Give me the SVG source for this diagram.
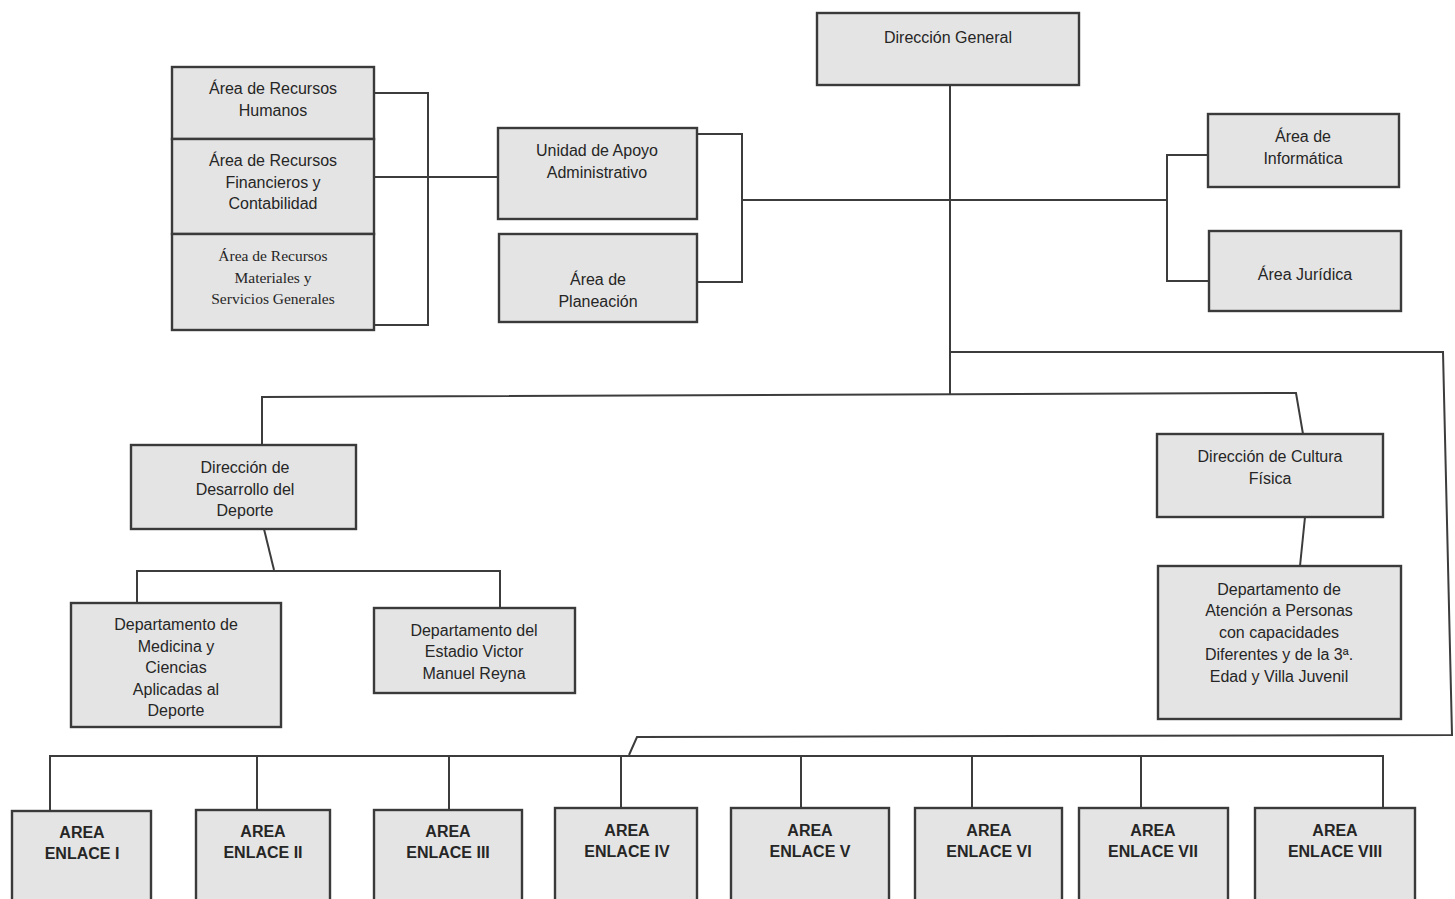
<svg xmlns="http://www.w3.org/2000/svg" width="1455" height="899" viewBox="0 0 1455 899">
<style>
.box{fill:#e4e4e4;stroke:#3a3a3a;stroke-width:2.4}
.ln{fill:none;stroke:#3c3c3c;stroke-width:2}
text{font-family:"Liberation Sans",Arial,sans-serif;font-size:16px;fill:#262626;text-anchor:middle}
.sf{font-family:"Liberation Serif","Times New Roman",serif;font-size:15.5px}
.b{font-weight:bold}
</style>
<rect width="1455" height="899" fill="#ffffff"/>
<g id="connectors">
<line class="ln" x1="950" y1="85" x2="950" y2="395"/>
<path class="ln" d="M374 93 H428 V325 H374"/>
<line class="ln" x1="374" y1="177" x2="498" y2="177"/>
<path class="ln" d="M697 134 H742 V282 H697"/>
<line class="ln" x1="742" y1="200" x2="1167" y2="200"/>
<path class="ln" d="M1208 155 H1167 V281 H1209"/>
<path class="ln" d="M950 352 H1443 L1452 735 L637 737 L629 755"/>
<path class="ln" d="M262 445 V397 L1296 393 L1303 434"/>
<path class="ln" d="M264 529 L274 570"/>
<path class="ln" d="M137 603 V571 H500 V608"/>
<path class="ln" d="M1305 517 L1300 566"/>
<path class="ln" d="M50 811 V756 H1383 V808"/>
<line class="ln" x1="257" y1="756" x2="257" y2="810"/>
<line class="ln" x1="449" y1="756" x2="449" y2="810"/>
<line class="ln" x1="621" y1="756" x2="621" y2="808"/>
<line class="ln" x1="801" y1="756" x2="801" y2="808"/>
<line class="ln" x1="972" y1="756" x2="972" y2="808"/>
<line class="ln" x1="1141" y1="756" x2="1141" y2="808"/>
</g>
<g id="direccion-general"><rect class="box" x="817" y="13" width="262" height="72"/><text x="948" y="43">Dirección General</text></g>
<g id="recursos-humanos"><rect class="box" x="172" y="67" width="202" height="72"/><text x="273" y="94">Área de Recursos</text><text x="273" y="116">Humanos</text></g>
<g id="recursos-financieros"><rect class="box" x="172" y="139" width="202" height="95"/><text x="273" y="166">Área de Recursos</text><text x="273" y="188">Financieros y</text><text x="273" y="209">Contabilidad</text></g>
<g id="recursos-materiales"><rect class="box" x="172" y="234" width="202" height="96"/><text class="sf" x="273" y="261">Área de Recursos</text><text class="sf" x="273" y="283">Materiales y</text><text class="sf" x="273" y="304">Servicios Generales</text></g>
<g id="unidad-apoyo"><rect class="box" x="498" y="128" width="199" height="91"/><text x="597" y="156">Unidad de Apoyo</text><text x="597" y="178">Administrativo</text></g>
<g id="planeacion"><rect class="box" x="499" y="234" width="198" height="88"/><text x="598" y="285">Área de</text><text x="598" y="307">Planeación</text></g>
<g id="informatica"><rect class="box" x="1208" y="114" width="191" height="73"/><text x="1303" y="142">Área de</text><text x="1303" y="164">Informática</text></g>
<g id="juridica"><rect class="box" x="1209" y="231" width="192" height="80"/><text x="1305" y="280">Área Jurídica</text></g>
<g id="desarrollo-deporte"><rect class="box" x="131" y="445" width="225" height="84"/><text x="245" y="473">Dirección de</text><text x="245" y="495">Desarrollo del</text><text x="245" y="516">Deporte</text></g>
<g id="cultura-fisica"><rect class="box" x="1157" y="434" width="226" height="83"/><text x="1270" y="462">Dirección de Cultura</text><text x="1270" y="484">Física</text></g>
<g id="medicina"><rect class="box" x="71" y="603" width="210" height="124"/><text x="176" y="630">Departamento de</text><text x="176" y="652">Medicina y</text><text x="176" y="673">Ciencias</text><text x="176" y="695">Aplicadas al</text><text x="176" y="716">Deporte</text></g>
<g id="estadio"><rect class="box" x="374" y="608" width="201" height="85"/><text x="474" y="636">Departamento del</text><text x="474" y="657">Estadio Victor</text><text x="474" y="679">Manuel Reyna</text></g>
<g id="atencion"><rect class="box" x="1158" y="566" width="243" height="153"/><text x="1279" y="595">Departamento de</text><text x="1279" y="616">Atención a Personas</text><text x="1279" y="638">con capacidades</text><text x="1279" y="660">Diferentes y de la 3ª.</text><text x="1279" y="682">Edad y Villa Juvenil</text></g>
<g id="enlace-1"><rect class="box" x="12" y="811" width="139" height="100"/><text class="b" x="82" y="838">AREA</text><text class="b" x="82" y="859">ENLACE I</text></g>
<g id="enlace-2"><rect class="box" x="196" y="810" width="134" height="100"/><text class="b" x="263" y="837">AREA</text><text class="b" x="263" y="858">ENLACE II</text></g>
<g id="enlace-3"><rect class="box" x="374" y="810" width="148" height="100"/><text class="b" x="448" y="837">AREA</text><text class="b" x="448" y="858">ENLACE III</text></g>
<g id="enlace-4"><rect class="box" x="555" y="808" width="142" height="100"/><text class="b" x="627" y="836">AREA</text><text class="b" x="627" y="857">ENLACE IV</text></g>
<g id="enlace-5"><rect class="box" x="731" y="808" width="158" height="100"/><text class="b" x="810" y="836">AREA</text><text class="b" x="810" y="857">ENLACE V</text></g>
<g id="enlace-6"><rect class="box" x="915" y="808" width="147" height="100"/><text class="b" x="989" y="836">AREA</text><text class="b" x="989" y="857">ENLACE VI</text></g>
<g id="enlace-7"><rect class="box" x="1079" y="808" width="149" height="100"/><text class="b" x="1153" y="836">AREA</text><text class="b" x="1153" y="857">ENLACE VII</text></g>
<g id="enlace-8"><rect class="box" x="1255" y="808" width="160" height="100"/><text class="b" x="1335" y="836">AREA</text><text class="b" x="1335" y="857">ENLACE VIII</text></g>
</svg>
